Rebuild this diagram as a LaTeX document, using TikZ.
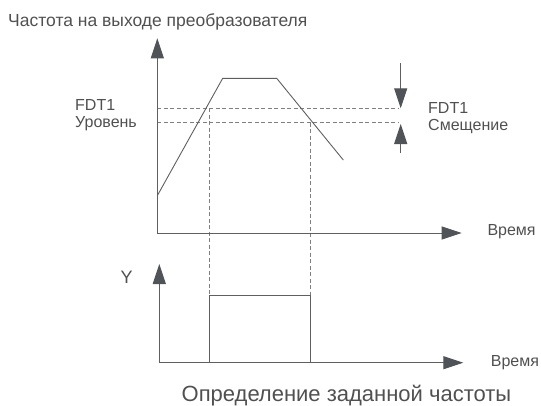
\documentclass[tikz,border=0pt]{standalone}
\usepackage{fontspec}
\setmainfont{Liberation Sans}
\usetikzlibrary{arrows.meta}
\definecolor{txt}{RGB}{80,80,80}
\definecolor{ln}{RGB}{95,95,95}
\definecolor{tip}{RGB}{80,84,88}
\begin{document}
\begin{tikzpicture}[x=1pt,y=-1pt,
  axisline/.style={draw=ln,line width=1pt,-{Triangle[length=20pt,width=13pt,fill=tip,color=tip]}},
  sigline/.style={draw=ln,line width=0.9pt,line join=miter},
  dashline/.style={draw=ln!80,line width=0.9pt,dash pattern=on 4pt off 2.5pt},
  lbl/.style={inner sep=0pt,text=txt,font=\fontsize{16}{18}\selectfont},
]
\useasboundingbox (0,0) rectangle (541,405);
% --- upper chart coordinates
\coordinate (o1) at (157.3,233);
\coordinate (y1) at (157.3,38.3);
\coordinate (x1) at (461.7,233);
\coordinate (r0) at (157.3,195.7);
\coordinate (r1) at (222.7,78.3);
\coordinate (r2) at (276.7,78.3);
\coordinate (r3) at (343.3,160);
\coordinate (la) at (157.3,108);
\coordinate (lb) at (157.3,122.7);
\coordinate (ea) at (398,108);
\coordinate (eb) at (398,122.7);
\coordinate (va) at (209.3,108);
\coordinate (vb) at (310,122.7);
\coordinate (ta) at (400.7,63.3);
\coordinate (tah) at (400.7,108.3);
\coordinate (tb) at (400.7,153.3);
\coordinate (tbh) at (400.7,124);
% --- lower chart coordinates
\coordinate (o2) at (159.3,362.7);
\coordinate (y2) at (159.3,264);
\coordinate (x2) at (463.3,362.7);
\coordinate (p0) at (209.3,362.7);
\coordinate (p1) at (209.3,295);
\coordinate (p2) at (310,295);
\coordinate (p3) at (310,362.7);

% dashed reference lines
\draw[dashline] (la) -- (ea);
\draw[dashline] (lb) -- (eb);
\draw[dashline] (va) -- (p1);
\draw[dashline] (vb) -- (p2);

% axes
\draw[axisline] (o1) -- (y1);
\draw[axisline] (o1) -- (x1);
\draw[axisline] (o2) -- (y2);
\draw[axisline] (o2) -- (x2);

% frequency curve
\draw[sigline] (r0) -- (r1) -- (r2) -- (r3);
% pulse
\draw[sigline] (p0) -- (p1) -- (p2) -- (p3);

% offset arrows
\draw[axisline] (ta) -- (tah);
\draw[axisline] (tb) -- (tbh);

% labels
\node[lbl,anchor=base west,font=\fontsize{17.5}{20}\selectfont] (title) at (8,26.7) {Частота на выходе преобразователя};
\node[lbl,anchor=base west] (fdtl) at (75,110.7) {FDT1};
\node[lbl,anchor=base west] (lvl) at (75,127.3) {Уровень};
\node[lbl,anchor=base west] (fdtr) at (428,113.3) {FDT1};
\node[lbl,anchor=base west] (off) at (428,130) {Смещение};
\node[lbl,anchor=base west] (t1) at (487.3,235.7) {Время};
\node[lbl,anchor=base,font=\fontsize{18}{20}\selectfont] (ylab) at (126.7,283.3) {Y};
\node[lbl,anchor=base west] (t2) at (490.7,366) {Время};
\node[lbl,anchor=base,font=\fontsize{22}{24}\selectfont] (cap) at (346.5,401) {Определение заданной частоты};
\end{tikzpicture}
\end{document}
